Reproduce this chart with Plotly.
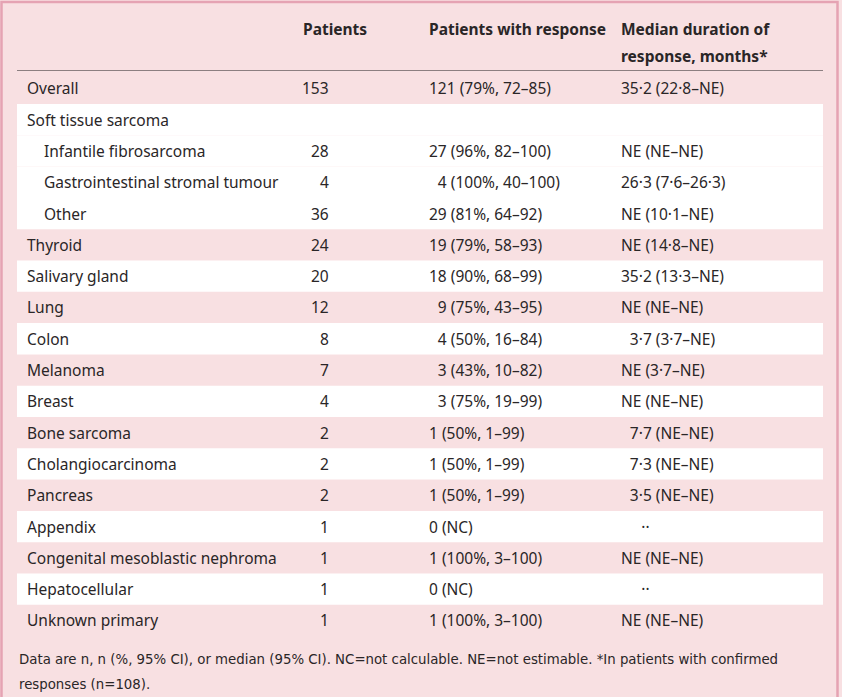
import plotly.graph_objects as go

# ---- data ----
sites = ["Overall", "Soft tissue sarcoma", "Infantile fibrosarcoma",
         "Gastrointestinal stromal tumour", "Other", "Thyroid", "Salivary gland",
         "Lung", "Colon", "Melanoma", "Breast", "Bone sarcoma",
         "Cholangiocarcinoma", "Pancreas", "Appendix",
         "Congenital mesoblastic nephroma", "Hepatocellular", "Unknown primary"]
indented = [False, False, True, True, True] + [False] * 13
patients = ["153", "", "28", "4", "36", "24", "20", "12", "8", "7", "4",
            "2", "2", "2", "1", "1", "1", "1"]
response = ["121 (79%, 72–85)", "", "27 (96%, 82–100)", "\u20074 (100%, 40–100)",
            "29 (81%, 64–92)", "19 (79%, 58–93)", "18 (90%, 68–99)",
            "\u20079 (75%, 43–95)", "\u20074 (50%, 16–84)", "\u20073 (43%, 10–82)",
            "\u20073 (75%, 19–99)", "1 (50%, 1–99)", "1 (50%, 1–99)",
            "1 (50%, 1–99)", "0 (NC)", "1 (100%, 3–100)", "0 (NC)",
            "1 (100%, 3–100)"]
duration = ["35·2 (22·8–NE)", "", "NE (NE–NE)", "26·3 (7·6–26·3)", "NE (10·1–NE)",
            "NE (14·8–NE)", "35·2 (13·3–NE)", "NE (NE–NE)", "\u20073·7 (3·7–NE)",
            "NE (3·7–NE)", "NE (NE–NE)", "\u20077·7 (NE–NE)", "\u20077·3 (NE–NE)",
            "\u20073·5 (NE–NE)", "\u2007\u2007\u2009··", "NE (NE–NE)", "\u2007\u2007\u2009··",
            "NE (NE–NE)"]
white_rows = [1, 2, 3, 4, 6, 8, 10, 12, 14, 16]
headers = ["Patients", "Patients with response", "Median duration of", "response, months*"]
footnote_lines = ["Data are n, n (%, 95% CI), or median (95% CI). NC=not calculable. "
                  "NE=not estimable. *In patients with confirmed",
                  "responses (n=108)."]

# ---- layout constants ----
W, H = 842, 697
BG = "#f8e0e2"
BORDER = "#e5a3b3"
TXT = "#2a2627"
FONT = "Noto Sans"
row_top0 = 72.7
row_h = 31.3
x_left, x_right = 17, 823

fig = go.Figure()
fig.add_trace(go.Scatter(x=[0, W], y=[0, H], mode="markers",
                         marker=dict(opacity=0), hoverinfo="skip", showlegend=False))

shapes = []
for i in white_rows:
    y0 = row_top0 + i * row_h
    shapes.append(dict(type="rect", xref="x", yref="y", x0=x_left, x1=x_right,
                       y0=y0, y1=y0 + row_h, fillcolor="white", line=dict(width=0),
                       layer="below"))
# header rule
shapes.append(dict(type="line", xref="x", yref="y", x0=x_left, x1=x_right,
                   y0=70.5, y1=70.5, line=dict(color="#8c7f81", width=1.2)))
# outer frame
shapes.append(dict(type="rect", xref="x", yref="y", x0=1.5, x1=837.5, y0=2, y1=720,
                   line=dict(color=BORDER, width=2.5), fillcolor="rgba(0,0,0,0)"))

ann = []
fs = 15.5
for i, s in enumerate(sites):
    yc = row_top0 + i * row_h + row_h / 2
    ann.append(dict(x=42 if indented[i] else 25, y=yc, text=s, xanchor="left",
                    yanchor="middle", showarrow=False))
    if patients[i]:
        ann.append(dict(x=331, y=yc, text=patients[i], xanchor="right",
                        yanchor="middle", showarrow=False))
    if response[i]:
        ann.append(dict(x=427, y=yc, text=response[i], xanchor="left",
                        yanchor="middle", showarrow=False))
    if duration[i]:
        ann.append(dict(x=619, y=yc, text=duration[i], xanchor="left",
                        yanchor="middle", showarrow=False))

ann.append(dict(x=335, y=29, text="<b>" + headers[0] + "</b>", xanchor="center",
                yanchor="middle", showarrow=False))
ann.append(dict(x=427, y=29, text="<b>" + headers[1] + "</b>", xanchor="left",
                yanchor="middle", showarrow=False))
ann.append(dict(x=619, y=29, text="<b>" + headers[2] + "</b>", xanchor="left",
                yanchor="middle", showarrow=False))
ann.append(dict(x=619, y=56, text="<b>" + headers[3] + "</b>", xanchor="left",
                yanchor="middle", showarrow=False))
for k, line in enumerate(footnote_lines):
    ann.append(dict(x=17, y=658 + k * 25, text=line, xanchor="left", yanchor="middle",
                    align="left", showarrow=False,
                    font=dict(family="Liberation Sans Narrow, DejaVu Sans Condensed",
                              size=14.8, color=TXT)))

fig.update_layout(
    width=W, height=H, margin=dict(l=0, r=0, t=0, b=0),
    paper_bgcolor=BG, plot_bgcolor=BG,
    font=dict(family=FONT, size=fs, color=TXT),
    xaxis=dict(range=[0, W], visible=False, fixedrange=True),
    yaxis=dict(range=[H, 0], visible=False, fixedrange=True),
    shapes=shapes, annotations=ann, showlegend=False,
)
fig.write_html("out.html", config={"displayModeBar": False},
               post_script="document.body.style.margin='0';document.body.style.overflow='hidden';")
